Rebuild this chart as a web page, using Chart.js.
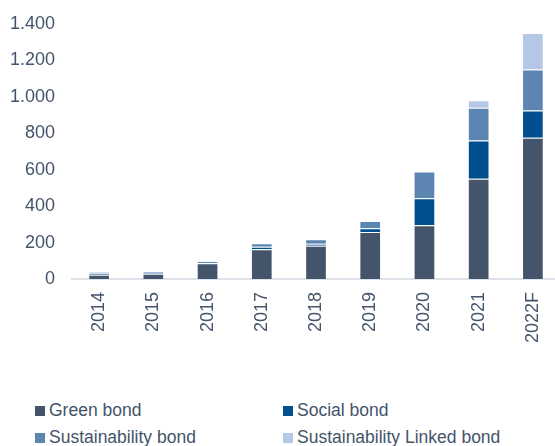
<!DOCTYPE html>
<html>
<head>
<meta charset="utf-8">
<script src="https://cdn.jsdelivr.net/npm/chart.js@4"></script>
<style>
  body { margin: 0; width: 555px; height: 446px; overflow: hidden; background: #fff; font-family: "Liberation Sans", Arial, sans-serif; }
  #wrap { position: absolute; left: 0; top: 0; width: 560px; height: 360px; }
  .legend-item { position: absolute; font-size: 17.5px; color: #44546a; line-height: 20px; white-space: nowrap; }
  .legend-item .box { display: inline-block; width: 10px; height: 10px; margin-right: 4px; vertical-align: 0px; }
</style>
</head>
<body>
<div id="wrap"><canvas id="chart"></canvas></div>
<div id="legend"></div>
<script>
const years = ['2014', '2015', '2016', '2017', '2018', '2019', '2020', '2021', '2022F'];
const greenBond = [24, 29, 86, 164, 182, 258, 295, 550, 775];
const socialBond = [6, 5, 2, 13, 11, 21, 148, 210, 150];
const sustainabilityBond = [10, 10, 11, 19, 25, 39, 147, 180, 225];
const sustainabilityLinkedBond = [0, 0, 0, 0, 0, 0, 0, 42, 200];
const yTicks = [0, 200, 400, 600, 800, 1000, 1200, 1400];

const seriesNames = ['Green bond', 'Social bond', 'Sustainability bond', 'Sustainability Linked bond'];
const seriesColors = ['#44546a', '#00508f', '#5d85b2', '#b4c7e7'];
const seriesData = [greenBond, socialBond, sustainabilityBond, sustainabilityLinkedBond];

function fmt(v) {
    return String(v).replace(/\B(?=(\d{3})+(?!\d))/g, '.');
}

const ctx = document.getElementById('chart').getContext('2d');
new Chart(ctx, {
    type: 'bar',
    data: {
        labels: years,
        datasets: seriesData.map((d, i) => ({
            label: seriesNames[i],
            data: d,
            backgroundColor: seriesColors[i],
            borderColor: 'rgba(255, 255, 255, 0.3)',
            borderWidth: 1,
            categoryPercentage: 1,
            barPercentage: 0.4
        }))
    },
    options: {
        responsive: true,
        maintainAspectRatio: false,
        animation: false,
        layout: { padding: { left: 10, right: 0, top: 24, bottom: 17 } },
        plugins: {
            legend: { display: false },
            tooltip: { enabled: false }
        },
        scales: {
            x: {
                stacked: true,
                grid: { display: false, drawTicks: false },
                border: { display: true, color: '#dde1e8', width: 2 },
                ticks: {
                    color: '#44546a',
                    font: { family: '"Liberation Sans", Arial, sans-serif', size: 18 },
                    minRotation: 90,
                    maxRotation: 90,
                    padding: 13
                },
                afterFit: s => { s.height = 64; s.paddingLeft = 0; s.paddingRight = 0; }
            },
            y: {
                stacked: true,
                min: 0,
                max: 1400,
                afterBuildTicks: axis => { axis.ticks = yTicks.map(v => ({ value: v })); },
                grid: { display: false, drawTicks: false },
                border: { display: false },
                ticks: {
                    color: '#44546a',
                    font: { family: '"Liberation Sans", Arial, sans-serif', size: 18 },
                    padding: 17,
                    callback: v => fmt(v)
                },
                afterFit: s => { s.width = 62; s.paddingTop = 0; s.paddingBottom = 0; }
            }
        }
    }
});

// legend in two columns
const legend = document.getElementById('legend');
const legendPos = [[35, 400], [283, 400], [35, 427], [283, 427]];
seriesNames.forEach((name, i) => {
    const item = document.createElement('div');
    item.className = 'legend-item';
    item.style.left = legendPos[i][0] + 'px';
    item.style.top = legendPos[i][1] + 'px';
    item.innerHTML = '<span class="box" style="background:' + seriesColors[i] + '"></span>' + name;
    legend.appendChild(item);
});
</script>
</body>
</html>
